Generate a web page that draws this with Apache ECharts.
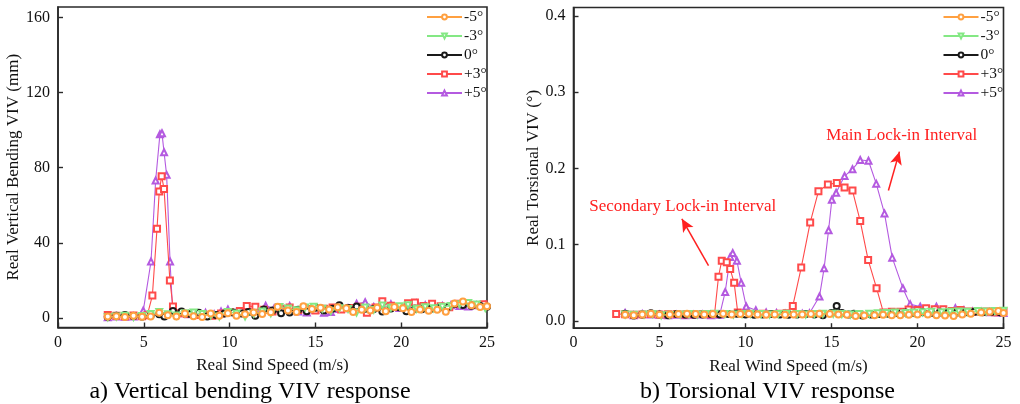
<!DOCTYPE html>
<html>
<head>
<meta charset="utf-8">
<script src="https://cdn.jsdelivr.net/npm/echarts@6/dist/echarts.min.js"></script>
<style>
  html, body { margin: 0; padding: 0; background: #fff; }
  #chart { width: 1020px; height: 404px; }
</style>
</head>
<body>
<div id="chart"></div>
<script>
// Series names (angle of attack)
const seriesNames = ['-5°', '-3°', '0°', '+3°', '+5°'];
const seriesColors = ['#FFA040', '#84E884', '#1a1a1a', '#FF4A4A', '#B45AE0'];
const seriesSymbols = ['emptyCircle', 'emptyTriangle', 'emptyCircle', 'emptyRect', 'emptyTriangle'];
const seriesRotate = [0, 180, 0, 0, 0];

// Tick labels
const bendTicks = [0, 40, 80, 120, 160];
const torsTicks = [0, 0.1, 0.2, 0.3, 0.4];

// a) Vertical bending VIV (mm) vs wind speed (m/s)
const bendM5 = [[2.9,0.8],[3.4,1.0],[3.9,0.6],[4.4,1.3],[4.9,0.7],[5.4,0.9],[5.9,2.8],[6.4,1.5],[6.9,0.8],[7.4,2.5],[7.9,1.0],[8.4,0.6],[8.9,2.4],[9.4,1.2],[9.9,2.6],[10.4,1.3],[10.9,2.1],[11.4,3.0],[11.9,2.2],[12.4,3.1],[12.8,6.0],[13.4,4.0],[13.9,3.2],[14.3,6.3],[14.8,4.8],[15.3,5.5],[15.8,4.6],[16.3,5.8],[16.8,5.2],[17.2,3.3],[17.7,4.4],[18.2,4.1],[18.6,5.5],[19.1,3.7],[19.6,5.9],[20.1,5.2],[20.6,3.2],[21.1,4.6],[21.6,3.9],[22.1,4.4],[22.6,3.4],[23.1,7.8],[23.6,8.8],[24.1,6.8],[24.6,5.9],[25.0,6.3]];
const bendM3 = [[2.9,0.5],[3.4,0.8],[3.9,1.2],[4.4,0.6],[4.9,1.1],[5.4,2.2],[5.9,3.3],[6.4,2.0],[6.9,1.4],[7.4,2.6],[7.9,3.0],[8.4,2.2],[8.9,1.5],[9.4,0.9],[9.9,3.3],[10.4,2.5],[10.9,0.9],[11.4,2.4],[11.9,3.5],[12.4,2.6],[12.9,5.9],[13.4,5.1],[13.9,4.2],[14.4,5.6],[14.9,6.0],[15.4,5.0],[15.9,3.8],[16.4,5.3],[16.9,4.9],[17.4,3.0],[17.9,5.6],[18.4,4.5],[18.9,6.7],[19.4,5.5],[19.9,6.3],[20.4,6.9],[20.9,5.0],[21.4,5.8],[21.9,5.2],[22.4,6.0],[22.9,6.5],[23.4,7.4],[23.9,8.0],[24.4,7.2],[24.9,5.4]];
const bend0 = [[2.9,0.7],[3.4,1.3],[3.9,1.6],[4.4,1.1],[4.9,0.9],[5.4,1.4],[5.9,2.1],[6.2,0.9],[6.7,3.8],[7.2,3.5],[7.7,2.2],[8.2,2.9],[8.7,0.9],[9.2,1.6],[9.7,2.4],[10.2,3.0],[10.7,2.5],[11.1,3.2],[11.5,1.2],[12.0,4.6],[12.5,4.0],[13.0,2.6],[13.5,3.0],[14.0,4.4],[14.5,3.6],[15.0,5.5],[15.5,4.1],[16.0,5.0],[16.4,6.9],[16.9,5.4],[17.4,6.2],[17.9,5.0],[18.4,4.8],[18.9,3.5],[19.4,5.1],[19.9,5.8],[20.3,3.6],[20.8,5.0],[21.2,4.7],[21.7,4.9],[22.2,5.5],[22.7,5.8],[23.1,7.5],[23.6,7.0],[24.1,6.6],[24.6,6.4],[25.0,6.1]];
const bendP3 = [[2.9,1.6],[3.4,1.2],[3.9,1.0],[4.4,1.4],[4.9,1.0],[5.2,1.5],[5.5,12.0],[5.77,47.5],[5.9,67.3],[6.04,75.5],[6.18,68.7],[6.52,20.0],[6.7,6.2],[7.0,2.6],[7.5,2.2],[8.0,1.6],[8.5,1.8],[9.0,1.2],[9.5,2.5],[10.0,3.2],[10.6,3.8],[11.0,6.4],[11.5,6.0],[12.0,4.4],[12.5,3.5],[13.0,5.0],[13.5,5.6],[14.0,4.3],[14.5,4.9],[15.0,4.0],[15.5,5.0],[16.0,5.7],[16.5,4.6],[17.0,5.4],[17.5,6.1],[18.0,2.9],[18.5,5.6],[18.9,8.9],[19.4,6.6],[19.9,5.9],[20.4,7.9],[20.8,8.3],[21.3,6.5],[21.8,7.6],[22.3,6.3],[22.8,5.8],[23.3,7.6],[23.8,8.0],[24.3,7.0],[24.8,7.4]];
const bendP5 = [[2.9,0.4],[3.4,0.9],[3.9,0.7],[4.4,0.8],[4.97,4.0],[5.42,30.1],[5.69,73.2],[5.94,97.8],[6.06,98.3],[6.18,88.2],[6.33,76.2],[6.53,30.1],[6.68,4.0],[7.1,2.6],[7.6,2.1],[8.1,2.0],[8.6,2.8],[9.1,2.1],[9.5,3.5],[9.9,4.6],[10.4,3.3],[10.9,3.8],[11.4,4.3],[11.8,2.9],[12.1,6.6],[12.6,5.2],[13.0,4.6],[13.5,6.5],[14.0,3.5],[14.5,3.0],[15.0,4.5],[15.5,2.9],[15.9,3.3],[16.4,4.8],[16.9,5.2],[17.4,7.6],[17.9,8.4],[18.4,5.9],[18.9,6.8],[19.4,7.4],[19.9,5.4],[20.4,6.1],[20.9,7.8],[21.4,6.9],[21.9,5.8],[22.4,6.4],[22.9,6.9],[23.4,6.5],[23.9,6.2],[24.4,6.8],[24.9,7.0]];

// b) Torsional VIV (°) vs wind speed (m/s)
const torsM5 = [[3.0,0.008],[3.5,0.0075],[4.0,0.0085],[4.5,0.0095],[5.0,0.008],[5.6,0.0085],[6.1,0.009],[6.6,0.0095],[7.1,0.009],[7.6,0.0085],[8.1,0.009],[8.7,0.0095],[9.2,0.0085],[9.7,0.009],[10.2,0.0095],[10.7,0.0085],[11.2,0.008],[11.7,0.0085],[12.3,0.008],[12.8,0.0085],[13.3,0.0085],[13.8,0.009],[14.3,0.0095],[14.9,0.009],[15.4,0.0085],[15.9,0.008],[16.4,0.0065],[16.9,0.007],[17.5,0.0075],[18.0,0.008],[18.5,0.0075],[19.0,0.0075],[19.5,0.008],[20.0,0.0085],[20.6,0.0085],[21.1,0.0075],[21.6,0.007],[22.1,0.0065],[22.6,0.0085],[23.1,0.0095],[23.7,0.011],[24.2,0.012],[24.7,0.013],[25.0,0.0105]];
const torsM3 = [[3.0,0.0085],[3.5,0.008],[4.1,0.0085],[4.6,0.009],[5.1,0.0075],[5.6,0.008],[6.2,0.0085],[6.7,0.009],[7.2,0.0085],[7.7,0.009],[8.2,0.0095],[8.8,0.009],[9.3,0.0085],[9.8,0.009],[10.3,0.0095],[10.9,0.009],[11.4,0.0085],[11.9,0.009],[12.4,0.0095],[13.0,0.009],[13.5,0.0085],[14.0,0.009],[14.5,0.0095],[15.1,0.0095],[15.6,0.009],[16.1,0.0085],[16.6,0.009],[17.2,0.0095],[17.7,0.010],[18.2,0.0105],[18.7,0.011],[19.3,0.0105],[19.8,0.011],[20.3,0.0115],[20.8,0.012],[21.4,0.0115],[21.9,0.012],[22.4,0.0125],[22.9,0.012],[23.5,0.013],[24.0,0.0125],[24.5,0.013],[25.0,0.0135]];
const tors0 = [[3.0,0.0095],[3.5,0.007],[4.0,0.0085],[4.5,0.010],[5.0,0.0085],[5.5,0.0075],[6.0,0.009],[6.5,0.0085],[7.0,0.008],[7.5,0.0085],[8.0,0.009],[8.5,0.0085],[9.0,0.009],[9.5,0.0095],[10.0,0.0085],[10.5,0.008],[11.0,0.0085],[11.5,0.009],[12.0,0.0085],[12.5,0.008],[13.0,0.0085],[13.5,0.009],[14.0,0.0085],[14.5,0.0075],[15.0,0.0105],[15.3,0.0197],[15.6,0.0105],[16.0,0.0085],[16.3,0.0095],[16.8,0.007],[17.3,0.0085],[17.8,0.009],[18.3,0.0095],[18.8,0.0105],[19.3,0.011],[19.8,0.0105],[20.3,0.0115],[20.8,0.0105],[21.3,0.011],[21.8,0.0115],[22.3,0.011],[22.8,0.0115],[23.3,0.012],[23.8,0.0115],[24.3,0.012],[24.8,0.0115]];
const torsP3 = [[2.48,0.0092],[3.0,0.0088],[3.5,0.0082],[4.0,0.0085],[4.5,0.009],[5.0,0.0085],[5.5,0.0088],[6.0,0.009],[6.5,0.0085],[7.0,0.0088],[7.5,0.009],[8.0,0.0088],[8.2,0.009],[8.43,0.058],[8.62,0.079],[8.91,0.077],[9.11,0.068],[9.34,0.050],[9.55,0.011],[10.0,0.0095],[10.5,0.009],[11.0,0.0095],[11.5,0.009],[12.0,0.0095],[12.4,0.010],[12.75,0.0197],[13.24,0.070],[13.76,0.129],[14.24,0.170],[14.79,0.179],[15.31,0.181],[15.76,0.175],[16.22,0.171],[16.67,0.131],[17.13,0.080],[17.62,0.043],[18.02,0.011],[18.5,0.012],[19.0,0.012],[19.48,0.015],[20.0,0.0145],[20.5,0.0166],[21.0,0.0155],[21.5,0.0155],[22.0,0.013],[22.5,0.0145],[23.0,0.0125],[23.5,0.012],[24.0,0.0125],[24.5,0.0115],[25.0,0.0125]];
const torsP5 = [[3.0,0.0105],[3.5,0.0075],[4.0,0.009],[4.5,0.0085],[5.0,0.008],[5.5,0.0075],[6.0,0.008],[6.5,0.0075],[7.0,0.008],[7.5,0.0085],[8.0,0.0075],[8.5,0.008],[8.82,0.038],[9.11,0.084],[9.26,0.089],[9.5,0.079],[9.75,0.050],[10.04,0.019],[10.6,0.014],[11.2,0.011],[11.8,0.0105],[12.3,0.0095],[12.8,0.009],[13.3,0.0095],[13.72,0.010],[14.3,0.032],[14.57,0.069],[14.83,0.119],[15.02,0.159],[15.27,0.168],[15.76,0.190],[16.22,0.199],[16.67,0.211],[17.15,0.210],[17.6,0.180],[18.08,0.141],[18.53,0.083],[19.15,0.043],[19.57,0.022],[20.16,0.0188],[20.6,0.015],[21.1,0.0188],[21.6,0.014],[22.2,0.0166],[22.7,0.014],[23.2,0.0125],[23.7,0.012],[24.2,0.0115],[24.7,0.011],[25.0,0.0105]];

// Lock-in interval annotations (data coordinates of panel b)
const secondaryArrow = [[7.85, 0.0725], [6.30, 0.134]];
const mainArrow = [[18.31, 0.171], [18.95, 0.222]];
const secondaryLabel = { text: 'Secondary Lock-in Interval', at: [6.35, 0.150] };
const mainLabel = { text: 'Main Lock-in Interval', at: [19.08, 0.243] };

const FONT = 'Liberation Serif';
const AXIS_COLOR = '#2a2a2a';

const bendData = [bendM5, bendM3, bend0, bendP3, bendP5];
const torsData = [torsM5, torsM3, tors0, torsP3, torsP5];

function makeSeries(dataSets, axisIdx) {
  return dataSets.map((d, i) => ({
    name: seriesNames[i],
    type: 'line',
    xAxisIndex: axisIdx,
    yAxisIndex: axisIdx,
    data: d,
    symbol: seriesSymbols[i],
    symbolRotate: seriesRotate[i],
    symbolSize: 6,
    showAllSymbol: true,
    z: 10 - i,
    lineStyle: { color: seriesColors[i], width: 1.1 },
    itemStyle: { color: seriesColors[i], borderColor: seriesColors[i], borderWidth: 1.1 },
    emphasis: { disabled: true }
  }));
}

const series = makeSeries(bendData, 0).concat(makeSeries(torsData, 1));

// Annotation arrows and text on panel b
series.push({
  type: 'line',
  name: 'annot',
  xAxisIndex: 1,
  yAxisIndex: 1,
  data: [],
  symbol: 'none',
  z: 20,
  markLine: {
    silent: true,
    symbol: ['none', 'arrow'],
    symbolSize: [9, 13],
    label: { show: false },
    lineStyle: { color: '#FF2020', width: 1.5, type: 'solid' },
    data: [
      [{ coord: secondaryArrow[0] }, { coord: secondaryArrow[1] }],
      [{ coord: mainArrow[0] }, { coord: mainArrow[1] }]
    ]
  },
  markPoint: {
    silent: true,
    symbol: 'circle',
    symbolSize: 1,
    itemStyle: { color: 'rgba(0,0,0,0)' },
    label: {
      show: true,
      position: 'inside',
      color: '#FF2020',
      fontFamily: FONT,
      fontSize: 17,
      formatter: p => p.name
    },
    data: [
      { name: secondaryLabel.text, coord: secondaryLabel.at },
      { name: mainLabel.text, coord: mainLabel.at }
    ]
  }
});

function xAxisCfg(idx, name) {
  return {
    type: 'value',
    gridIndex: idx,
    min: 0, max: 25, interval: 5,
    name: name,
    nameLocation: 'middle',
    nameGap: 30,
    nameTextStyle: { fontFamily: FONT, fontSize: 17, color: '#111' },
    axisLine: { show: true, onZero: false, lineStyle: { color: AXIS_COLOR, width: 1.6 } },
    axisTick: { show: true, inside: true, length: 5, lineStyle: { color: AXIS_COLOR, width: 1.4 } },
    axisLabel: { fontFamily: FONT, fontSize: 16, color: '#111', margin: 7 },
    splitLine: { show: false }
  };
}

function yAxisCfg(idx, name, min, max, ticks, fmt, gap) {
  return {
    type: 'value',
    gridIndex: idx,
    min: min, max: max,
    name: name,
    nameLocation: 'middle',
    nameRotate: 90,
    nameGap: gap,
    nameTextStyle: { fontFamily: FONT, fontSize: 17, color: '#111' },
    axisLine: { show: true, onZero: false, lineStyle: { color: AXIS_COLOR, width: 1.6 } },
    axisTick: { show: true, inside: true, length: 5, customValues: ticks, lineStyle: { color: AXIS_COLOR, width: 1.4 } },
    axisLabel: { fontFamily: FONT, fontSize: 16, color: '#111', margin: 8, customValues: ticks, formatter: fmt },
    splitLine: { show: false }
  };
}

function legendCfg(left) {
  return {
    data: seriesNames.map(n => ({ name: n })),
    orient: 'vertical',
    left: left,
    top: 4,
    itemWidth: 35,
    itemHeight: 6,
    itemGap: 3.0,
    selectedMode: false,
    textStyle: { fontFamily: FONT, fontSize: 15.5, color: '#111', lineHeight: 14, padding: [0, 0, 0, -3] }
  };
}

const option = {
  animation: false,
  backgroundColor: '#fff',
  grid: [
    { left: 58, right: 533, top: 7, bottom: 76.5, show: true, borderColor: AXIS_COLOR, borderWidth: 1.6 },
    { left: 573.5, right: 16.5, top: 7.5, bottom: 75.8, show: true, borderColor: AXIS_COLOR, borderWidth: 1.6 }
  ],
  legend: [legendCfg(421), legendCfg(937.5)],
  xAxis: [
    xAxisCfg(0, 'Real Sind Speed (m/s)'),
    xAxisCfg(1, 'Real Wind Speed (m/s)')
  ],
  yAxis: [
    yAxisCfg(0, 'Real Vertical Bending VIV (mm)', -5, 165.5, bendTicks, v => String(v), 35.5),
    yAxisCfg(1, 'Real Torsional VIV (°)', -0.0095, 0.411, torsTicks, v => v.toFixed(1), 31.5)
  ],
  series: series,
  graphic: [
    {
      type: 'text',
      style: {
        text: 'a) Vertical bending VIV response',
        x: 250, y: 392,
        fontFamily: FONT, fontSize: 24, fill: '#000',
        align: 'center', verticalAlign: 'middle'
      }
    },
    {
      type: 'text',
      style: {
        text: 'b) Torsional VIV response',
        x: 767.5, y: 392,
        fontFamily: FONT, fontSize: 24, fill: '#000',
        align: 'center', verticalAlign: 'middle'
      }
    }
  ]
};

const chart = echarts.init(document.getElementById('chart'), null, { renderer: 'canvas' });
chart.setOption(option);
</script>
</body>
</html>
